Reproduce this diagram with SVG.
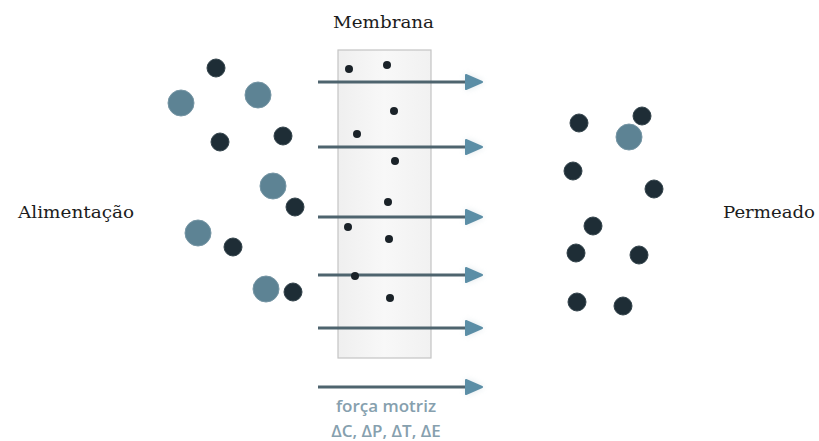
<svg xmlns="http://www.w3.org/2000/svg" width="819" height="441" viewBox="0 0 819 441">
  <defs>
    <style>
      .lbl { font-family: "DejaVu Serif", "Liberation Serif", serif; font-size: 17px; fill: #1c1c1c; }
      .force { font-family: "Open Sans", "Noto Sans", sans-serif; font-size: 17px; font-weight: 600; fill: #86a0ae; text-anchor: middle; }
      .dk { fill: #1e2d36; stroke: #34444c; stroke-width: 1; }
      .gb { fill: #5d8394; stroke: #7595a4; stroke-width: 1; }
      .sm { fill: #1a2228; }
      .arr { stroke: #4e646e; stroke-width: 3; fill: none; }
      .head { fill: #5b8ea6; stroke: #5b8ea6; stroke-width: 2; stroke-linejoin: round; }
    </style>
    <linearGradient id="mem" x1="0" y1="0" x2="1" y2="0">
      <stop offset="0" stop-color="#efefef"/>
      <stop offset="0.5" stop-color="#f8f8f8"/>
      <stop offset="1" stop-color="#f1f1f1"/>
    </linearGradient>
    <filter id="glow" x="-50%" y="-80%" width="200%" height="260%">
      <feGaussianBlur stdDeviation="3"/>
    </filter>
  </defs>
  <rect width="819" height="441" fill="#ffffff"/>

  <g id="membrana">
    <rect x="338" y="50" width="93" height="308" fill="url(#mem)" stroke="#c4c4c4" stroke-width="1.2"/>
    <text class="lbl" x="333" y="28" textLength="101" lengthAdjust="spacingAndGlyphs">Membrana</text>
  </g>

  <g id="connectors">
    <g opacity="0.35" filter="url(#glow)" fill="#9fb6c2">
      <polygon points="466,74 484,82 466,90"/>
      <polygon points="466,139 484,147 466,155"/>
      <polygon points="466,209 484,217 466,225"/>
      <polygon points="466,267 484,275 466,283"/>
      <polygon points="466,320 484,328 466,336"/>
      <polygon points="466,379 484,387 466,395"/>
    </g>
    <line class="arr" x1="318" y1="82" x2="468" y2="82"/>
    <polygon class="head" points="466,75 482,82 466,89"/>
    <line class="arr" x1="318" y1="147" x2="468" y2="147"/>
    <polygon class="head" points="466,140 482,147 466,154"/>
    <line class="arr" x1="318" y1="217" x2="468" y2="217"/>
    <polygon class="head" points="466,210 482,217 466,224"/>
    <line class="arr" x1="318" y1="275" x2="468" y2="275"/>
    <polygon class="head" points="466,268 482,275 466,282"/>
    <line class="arr" x1="318" y1="328" x2="468" y2="328"/>
    <polygon class="head" points="466,321 482,328 466,335"/>
    <line class="arr" x1="318" y1="387" x2="468" y2="387"/>
    <polygon class="head" points="466,380 482,387 466,394"/>
  </g>

  <g id="membrane-particles">
    <circle class="sm" cx="349" cy="69" r="4"/>
    <circle class="sm" cx="387" cy="65" r="4"/>
    <circle class="sm" cx="394" cy="111" r="4"/>
    <circle class="sm" cx="357" cy="134" r="4"/>
    <circle class="sm" cx="395" cy="161" r="4"/>
    <circle class="sm" cx="388" cy="202" r="4"/>
    <circle class="sm" cx="348" cy="227" r="4"/>
    <circle class="sm" cx="389" cy="239" r="4"/>
    <circle class="sm" cx="355" cy="276" r="4"/>
    <circle class="sm" cx="390" cy="298" r="4"/>
  </g>

  <g id="alimentacao">
    <text class="lbl" x="18" y="218" textLength="116" lengthAdjust="spacingAndGlyphs">Alimentação</text>
    <circle class="dk" cx="216" cy="68" r="9"/>
    <circle class="gb" cx="181" cy="103" r="13"/>
    <circle class="gb" cx="258" cy="95" r="13"/>
    <circle class="dk" cx="220" cy="142" r="9"/>
    <circle class="dk" cx="283" cy="136" r="9"/>
    <circle class="gb" cx="273" cy="186" r="13"/>
    <circle class="dk" cx="295" cy="207" r="9"/>
    <circle class="gb" cx="198" cy="233" r="13"/>
    <circle class="dk" cx="233" cy="247" r="9"/>
    <circle class="gb" cx="266" cy="289" r="13"/>
    <circle class="dk" cx="293" cy="292" r="9"/>
  </g>

  <g id="permeado">
    <text class="lbl" x="723" y="218" textLength="92" lengthAdjust="spacingAndGlyphs">Permeado</text>
    <circle class="dk" cx="579" cy="123" r="9"/>
    <circle class="dk" cx="642" cy="116" r="9"/>
    <circle class="gb" cx="629" cy="137" r="13"/>
    <circle class="dk" cx="573" cy="171" r="9"/>
    <circle class="dk" cx="654" cy="189" r="9"/>
    <circle class="dk" cx="593" cy="226" r="9"/>
    <circle class="dk" cx="576" cy="253" r="9"/>
    <circle class="dk" cx="639" cy="255" r="9"/>
    <circle class="dk" cx="577" cy="302" r="9"/>
    <circle class="dk" cx="623" cy="306" r="9"/>
  </g>

  <g id="forca-motriz">
    <text class="force" x="386" y="412">força motriz</text>
    <text class="force" x="386" y="437">ΔC, ΔP, ΔT, ΔE</text>
  </g>
</svg>
